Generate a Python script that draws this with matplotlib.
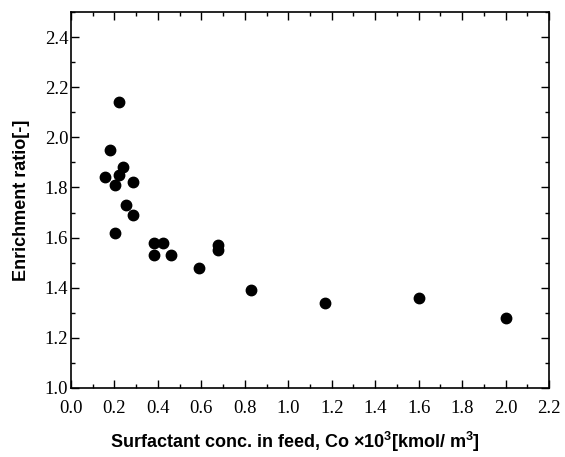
import matplotlib
matplotlib.use('Agg')
import matplotlib.pyplot as plt
from matplotlib.ticker import MultipleLocator, FormatStrFormatter

# data
conc = [0.155, 0.179, 0.201, 0.201, 0.219, 0.219, 0.241, 0.252, 0.284, 0.284,
        0.382, 0.382, 0.422, 0.46, 0.59, 0.678, 0.678, 0.828, 1.17, 1.6, 2.0]
ratio = [1.84, 1.95, 1.81, 1.62, 2.14, 1.85, 1.88, 1.73, 1.82, 1.69,
         1.58, 1.53, 1.58, 1.53, 1.48, 1.57, 1.55, 1.39, 1.34, 1.36, 1.28]

plt.rcParams['font.family'] = ['Liberation Serif', 'DejaVu Serif']
plt.rcParams['mathtext.fontset'] = 'custom'
plt.rcParams['mathtext.rm'] = 'Liberation Sans:bold'

fig = plt.figure(figsize=(5.65, 4.57), dpi=100)
ax = fig.add_axes([0.1257, 0.151, 0.846, 0.8227])

ax.plot(conc, ratio, 'o', color='black', markersize=7.5, linestyle='none')

ax.set_xlim(0.0, 2.2)
ax.set_ylim(1.0, 2.5)
ax.xaxis.set_major_locator(MultipleLocator(0.2))
ax.xaxis.set_minor_locator(MultipleLocator(0.1))
ax.yaxis.set_major_locator(MultipleLocator(0.2))
ax.yaxis.set_minor_locator(MultipleLocator(0.1))
ax.set_yticks([1.0, 1.2, 1.4, 1.6, 1.8, 2.0, 2.2, 2.4])
ax.xaxis.set_major_formatter(FormatStrFormatter('%.1f'))
ax.yaxis.set_major_formatter(FormatStrFormatter('%.1f'))
ax.tick_params(which='both', direction='in', top=True, right=True, width=1)
ax.tick_params(which='major', length=6, labelsize=13.5)
ax.tick_params(axis='x', which='major', pad=9)
ax.tick_params(axis='y', which='major', pad=2)
ax.tick_params(which='minor', length=3)
for s in ax.spines.values():
    s.set_linewidth(1.2)

lab_font = dict(family=['Liberation Sans Narrow', 'Liberation Sans'], fontweight='bold', fontsize=13)
ax.set_xlabel('Surfactant conc. in feed, Co \u00d710$^3$[kmol/ m$^3$]', **lab_font)
ax.set_ylabel('Enrichment ratio[-]', **lab_font)
ax.xaxis.set_label_coords(0.469, -0.112)
ax.yaxis.set_label_coords(-0.086, 0.5)

fig.savefig('out.png', dpi=100)
